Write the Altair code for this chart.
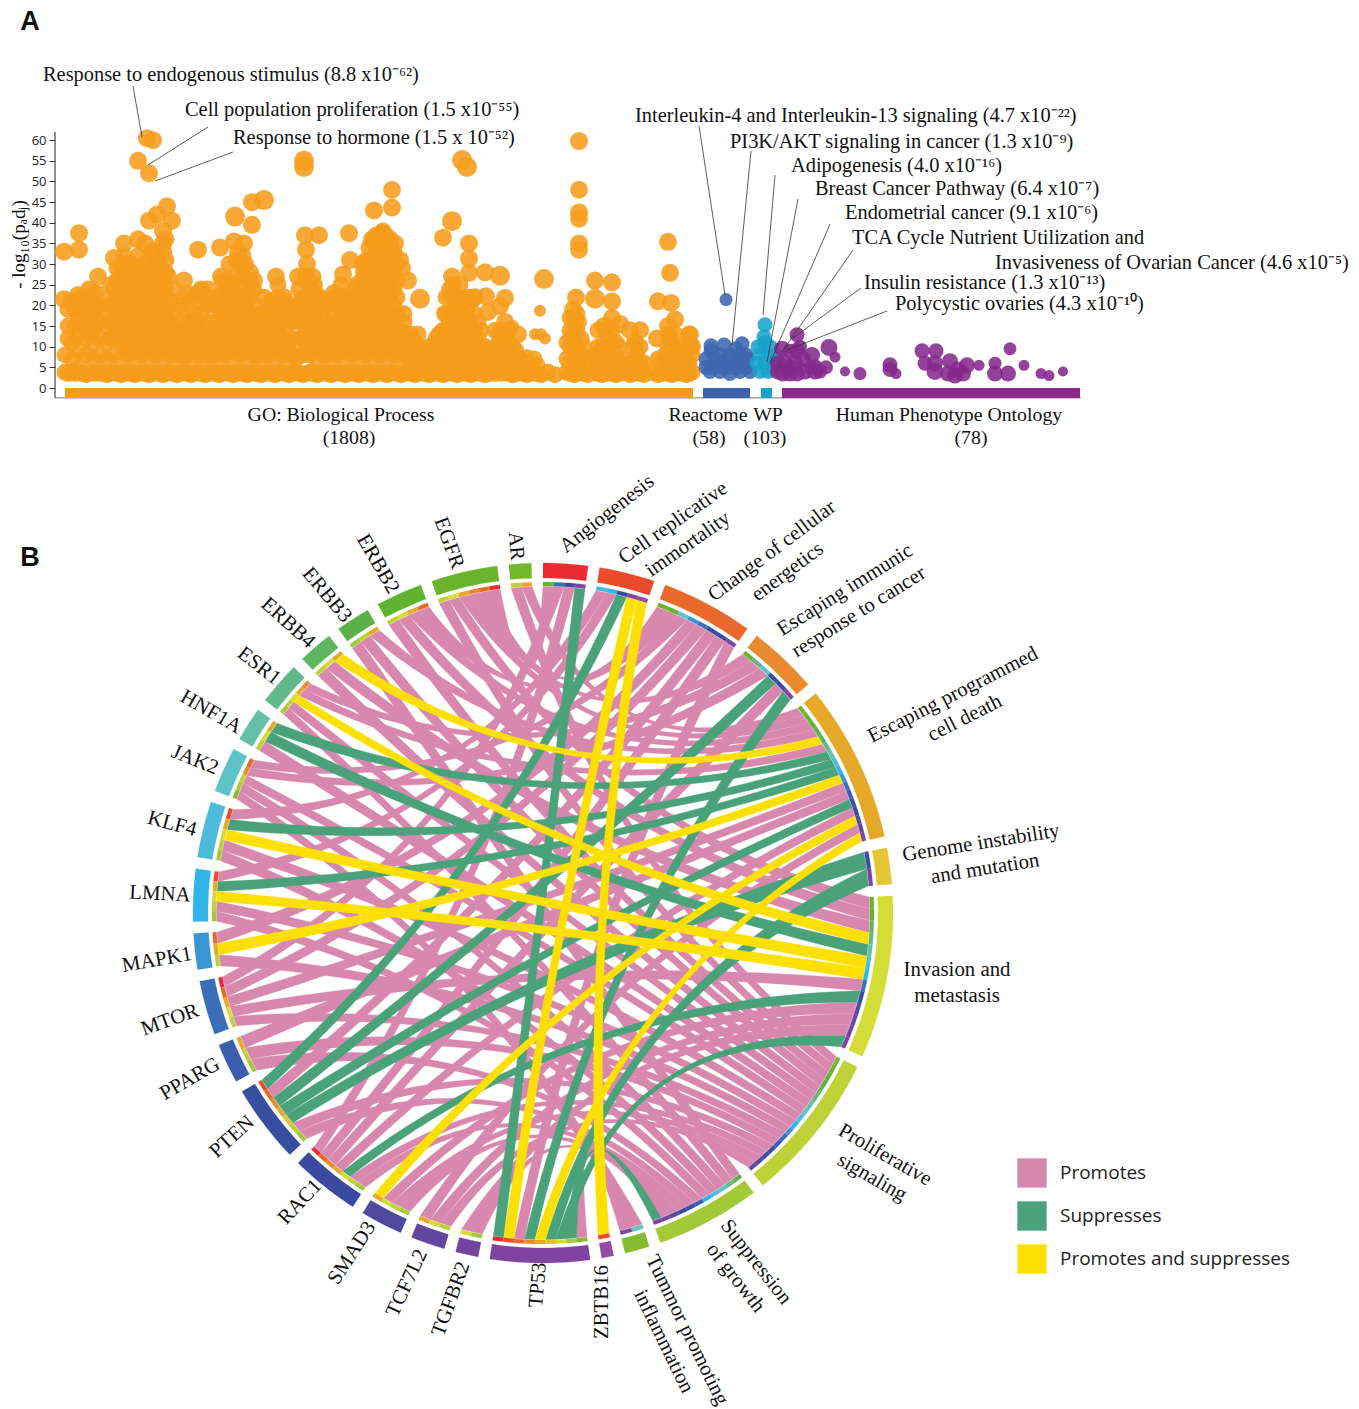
import math
import altair as alt
import pandas as pd

alt.data_transformers.disable_max_rows()

SERIF = "Liberation Serif"
SANS = "Open Sans"

# ---------- Panel A values: term position and -log10(p_adj) ----------
GO_COLS = {
    65: [3.8, 8], 72: [3.8, 7, 11], 79: [5, 9, 13, 17], 86: [3.2, 8, 12, 15], 93: [3.8, 7, 11, 14, 18],
    100: [3.8, 8, 12, 16], 107: [3.2, 7, 11, 15], 114: [3.8, 8, 12, 16, 20, 24], 121: [3.2, 7, 11, 15, 19, 23, 27],
    128: [3.8, 8, 12, 16, 20, 24, 29], 135: [3.2, 7, 11, 15, 19, 23], 142: [3.8, 8, 12, 16, 20, 25], 149: [3.2, 7, 11, 15, 19, 24],
    156: [3.8, 8, 12, 16, 20, 25], 163: [3.2, 7, 11, 15, 19, 23, 26], 170: [3.8, 8, 12, 16, 21], 177: [3.2, 7, 11, 14],
    184: [3.8, 8, 12], 191: [3.2, 7, 11, 15], 198: [3.8, 8, 12, 16], 205: [3.2, 7, 11], 212: [3.8, 8, 12, 14],
    219: [3.2, 7, 11, 15, 19], 226: [3.8, 8, 12, 16, 21], 233: [3.2, 7, 11, 15, 19, 24], 240: [3.8, 8, 12, 16, 20, 25],
    247: [3.2, 7, 11, 15, 19, 23], 254: [3.8, 8, 12], 261: [3.2, 7, 11, 15, 18], 268: [3.8, 8, 12, 16], 275: [3.2, 7, 11, 15],
    282: [3.8, 8, 12, 16], 289: [3.2, 7, 11], 296: [3.8, 7], 303: [3.2, 8, 12, 16, 20], 310: [3.8, 8, 12, 16, 20, 25],
    317: [3.2, 7, 11, 15, 19], 324: [3.8, 8, 12], 331: [3.2, 7, 11, 15], 338: [3.8, 8, 12, 16], 345: [3.2, 7, 11, 15, 18],
    352: [3.8, 8, 12, 16], 359: [3.2, 7, 11, 15, 18], 366: [3.8, 8, 12, 16, 20, 24, 28, 31], 373: [3.2, 7, 11, 15, 19, 23, 27, 31, 35],
    380: [3.8, 8, 12, 16, 20, 24, 28, 32, 36], 387: [3.2, 7, 11, 15, 19, 23, 27, 31, 35], 394: [3.8, 8, 12, 16, 20, 24, 28, 33],
    401: [3.2, 7, 11, 14], 408: [3.8, 8, 12], 415: [3.2, 7, 11], 422: [3.8, 8], 429: [3.2, 7, 10], 436: [3.8, 8, 12],
    443: [3.2, 7, 11, 14], 450: [3.8, 8, 12, 16], 457: [3.2, 7, 11, 15, 19], 464: [3.8, 8, 12, 16, 20], 471: [3.2, 7, 11, 15, 21],
    478: [3.8, 8, 12, 16], 485: [3.2, 7, 10], 492: [3.8, 8], 499: [7, 10, 13], 506: [3.8, 8, 12], 513: [3.2, 7, 10],
    520: [3.8, 7], 527: [3.2, 6], 534: [3.8, 7], 541: [3.2], 548: [3.8], 555: [3.2], 567: [3.8, 7, 11], 574: [3.2, 7, 11, 14],
    581: [3.8, 8, 12], 588: [3.2, 7], 595: [3.8, 8], 602: [3.2, 7, 10], 609: [3.8, 8, 12], 616: [3.2, 7, 11], 623: [3.8, 7],
    630: [3.2, 6], 637: [3.8, 8], 644: [3.2, 6], 651: [3.8], 658: [3.2, 7], 665: [3.8, 8], 672: [3.2, 7, 10], 679: [3.8, 8],
    686: [3.2, 6], 692: [3.8, 8, 10],
}
GO_FILL = {
    68: [3.5, 12, 15, 19], 75: [3.5, 15, 19, 21], 82: [3.5, 15, 19, 22], 89: [3.5, 14, 18, 21, 24], 96: [3.5, 16, 20, 23],
    103: [3.5, 19], 110: [3.5, 12, 16, 20, 22, 25], 117: [3.5, 14, 18, 22, 26, 29], 124: [3.5, 10, 14, 18, 22, 26, 30, 32],
    131: [3.5, 10, 14, 18, 22, 26, 30], 138: [3.5, 10, 14, 18, 22, 26, 29, 32], 145: [3.5, 10, 14, 18, 22, 26, 30],
    152: [3.5, 10, 14, 18, 22, 26, 29], 159: [3.5, 10, 14, 18, 22, 27, 30], 166: [3.5, 10, 14, 18, 22, 28, 31, 36],
    173: [3.5, 10, 14, 18, 24], 180: [3.5, 8, 12, 16, 20], 187: [3.5, 8, 12, 16, 19, 23], 194: [3.5, 10, 14, 18, 22],
    201: [3.5, 10, 14, 18, 24], 208: [3.5, 8, 12, 16, 20, 24], 215: [3.5, 8, 12, 16, 20], 222: [3.5, 10, 14, 18, 23, 26],
    229: [3.5, 10, 14, 18, 22, 26, 30], 236: [3.5, 10, 14, 18, 22, 27, 31], 243: [3.5, 10, 14, 18, 22, 27, 32],
    250: [3.5, 10, 14, 18, 22, 26], 257: [3.5, 8, 12, 16, 20], 264: [3.5, 10, 14, 18, 22], 271: [3.5, 10, 14, 18, 20],
    278: [3.5, 10, 14, 18, 22, 25], 285: [3.5, 10, 14, 18, 21], 292: [3.5, 8, 12, 16, 19], 299: [3.5, 8, 12, 16, 20, 24],
    306: [3.5, 10, 14, 18, 22, 26], 313: [3.5, 10, 14, 18, 22, 27], 320: [3.5, 10, 14, 18, 22], 327: [3.5, 8, 12, 16, 20],
    334: [3.5, 10, 14, 18, 22], 341: [3.5, 10, 14, 18, 22, 25], 348: [3.5, 10, 14, 18, 21], 355: [3.5, 10, 14, 18, 22, 24],
    362: [3.5, 10, 14, 18, 22, 26, 30], 369: [3.5, 10, 14, 18, 22, 26, 30, 34], 376: [3.5, 10, 14, 18, 22, 26, 30, 33, 37],
    383: [3.5, 10, 14, 18, 22, 26, 30, 34, 38], 390: [3.5, 10, 14, 18, 22, 26, 30, 34], 397: [3.5, 10, 14, 18, 22, 26, 30],
    404: [3.5, 8, 12, 16, 18], 411: [3.5, 6, 10, 13], 418: [3.5, 6, 10, 13], 425: [3.5, 6, 9], 432: [3.5, 6, 10],
    439: [3.5, 6, 10, 13], 446: [3.5, 6, 10, 14, 18, 22], 453: [3.5, 6, 10, 14, 18, 22, 25], 460: [3.5, 6, 10, 14, 18, 22, 25],
    467: [3.5, 6, 10, 14, 18, 22], 474: [3.5, 6, 10, 14, 18, 22], 481: [3.5, 6, 10, 14], 488: [3.5, 6, 9],
    495: [3.5, 6, 10, 14], 502: [3.5, 6, 10, 14], 509: [3.5, 6, 10, 14], 516: [3.5, 6, 9], 523: [3.5, 6], 530: [3.5, 5.5],
    537: [3.5, 5.5], 570: [3.5, 6, 10, 14, 17], 577: [3.5, 6, 10, 14, 18], 584: [3.5, 6, 10], 598: [3.5, 6, 10, 14],
    605: [3.5, 6, 10, 14], 612: [3.5, 6, 10, 14], 619: [3.5, 6, 10], 633: [3.5, 6, 10], 640: [3.5, 6, 10], 661: [3.5, 6],
    668: [3.5, 6, 10, 13], 675: [3.5, 6, 10, 13], 682: [3.5, 6, 10], 689: [3.5, 6, 10, 13],
}
GO_TOP_X = [64, 79, 79, 64, 72, 78, 84, 98, 93, 90, 98, 124, 114, 122, 128, 126, 138, 145, 135, 140, 150, 152, 153, 148,
            138, 147, 153, 149, 149, 157, 167, 172, 163, 163, 163, 153, 168, 160, 165, 198, 184, 198, 209, 184, 201,
            220, 221, 228, 252, 252, 234, 238, 244, 240, 245, 250, 254, 253, 220, 235, 276, 284, 272, 290,
            305, 306, 307, 298, 306, 314, 315, 319, 338, 330, 302, 349, 343, 350, 357, 334, 345, 356,
            382, 385, 390, 395, 367, 402, 364, 372, 378, 400, 408, 392, 392, 374, 443,
            469, 469, 469, 452, 450, 485, 486, 505, 500, 488, 455, 465, 475, 445, 505, 518,
            579, 579, 579, 579, 579, 579, 576, 573, 575, 578, 572, 595, 612, 612, 612, 620, 604, 630, 640, 635,
            668, 670, 658, 671, 675, 668, 657, 670, 690, 692]
GO_TOP_Y = [33, 37.5, 33.5, 21.5, 21, 22.5, 21, 27, 23, 21, 20, 35, 31.5, 28.5, 30, 26, 36, 35, 29, 25, 25, 33, 30, 27,
            55, 60.5, 60, 52, 40.5, 42, 44, 40.5, 38, 35, 33, 33, 27, 27, 24, 33.5, 26, 23, 22, 21.5, 21,
            34, 27, 25, 45, 39.5, 35.5, 33, 35, 30, 30, 28, 26, 24, 22, 21, 27, 22, 21, 18,
            37, 33.5, 30, 27, 27, 25, 23, 37, 21.5, 21, 21.5, 37.5, 27.5, 31, 25, 23, 22, 21,
            37.5, 37, 36, 35, 30, 29, 28, 36, 33, 31, 26, 48, 43.7, 43, 36.4,
            35, 31.3, 27.9, 27, 23.8, 28, 22.2, 21.8, 19.8, 18.4, 21, 19, 22, 18, 16, 13,
            59.8, 48, 42.5, 41, 35, 33.5, 21.9, 19, 17, 16, 12, 26, 25.6, 21, 17, 15.5, 15, 14, 14, 11,
            35.4, 27.9, 21, 20.6, 16.6, 15, 12, 12, 13, 10]
GO_BIG_X = [304, 304, 235, 264, 452, 420, 462, 467, 500, 544, 595]
GO_BIG_Y = [55, 53.5, 41.5, 45.5, 40.4, 21.6, 55.2, 53.5, 27.2, 26.4, 21.6]
GO_SMALL_X = [540, 535, 541, 545, 527, 513]
GO_SMALL_Y = [18.7, 13, 13, 12, 8, 15]

RE_X = [726, 711, 724, 742, 711, 736, 730, 720, 740, 748, 706, 714, 722, 730, 738, 746, 750, 706, 716, 726, 736, 746, 710, 720, 730, 740]
RE_Y = [21.4, 10.2, 10.4, 10.7, 9, 9.5, 8, 8, 8, 7, 5, 5, 5, 5, 5, 5, 4, 7, 7, 7, 6, 8, 4, 4, 3.5, 4]
WP_X = [765, 764, 765, 758, 770, 760, 768, 757, 765, 772, 775, 760, 768, 772, 776]
WP_Y = [15.3, 12.4, 11, 10, 10, 8, 8, 6, 6, 6, 6, 4, 4, 4.5, 8]
HP_X = [797, 782, 790, 797, 800, 778, 785, 790, 783, 797, 803, 812, 815, 811, 820, 826, 829, 835, 845, 860, 890, 890, 896,
        922, 936, 925, 935, 935, 950, 948, 955, 963, 967, 958, 979, 995, 995, 1008, 1010, 1024, 1041, 1049, 1063,
        790, 805, 815, 778, 795]
HP_Y = [12.9, 9.5, 9, 9, 10, 6, 6, 5, 3.5, 3.5, 7, 8, 5, 5, 4, 5, 9.8, 7.5, 4, 3.5, 5.6, 4.5, 3.5,
        9, 9, 6, 4, 6, 6.5, 3.5, 3, 3.5, 5.5, 4.5, 5.5, 6, 3.5, 3.5, 9.5, 5.5, 3.5, 3, 4,
        3.5, 4, 4, 4, 6]
HP_R = [7.5, 8, 7, 8, 7, 8, 8, 8, 8, 8, 8, 8, 8, 7, 7, 7, 8.5, 5.5, 5, 6.5, 7.5, 7.5, 5.5,
        7.5, 7.5, 7.5, 8.5, 8, 8, 8, 8, 8, 8, 8, 5.5, 6.5, 8, 8, 6.5, 5.5, 5.5, 5.5, 5,
        8, 8, 8, 8, 8]

SOURCE_COL = {"GO": "#f69c1b", "RE": "#3d66ae", "WP": "#18a3cb", "HP": "#84298c"}
BAR_START = [65, 703, 761, 782]
BAR_END = [693, 750, 772, 1080]
BAR_COL = ["#f69c1b", "#3d62ab", "#18a3cb", "#8a2b8c"]

# ---------- Panel A texts ----------
A_LEFT = [
    ("Response to endogenous stimulus (8.8 x10⁻⁶²)", 43, 75),
    ("Cell population proliferation (1.5 x10⁻⁵⁵)", 185, 110),
    ("Response to hormone (1.5 x 10⁻⁵²)", 233, 138),
    ("Interleukin-4 and Interleukin-13 signaling (4.7 x10⁻²²)", 635, 116),
    ("PI3K/AKT signaling in cancer (1.3 x10⁻⁹)", 730, 142),
    ("Adipogenesis (4.0 x10⁻¹⁶)", 791, 166),
    ("Breast Cancer Pathway (6.4 x10⁻⁷)", 815, 189),
    ("Endometrial cancer (9.1 x10⁻⁶)", 845, 213),
    ("TCA Cycle Nutrient Utilization and", 852, 238),
    ("Invasiveness of Ovarian Cancer (4.6 x10⁻⁵)", 995, 263),
    ("Insulin resistance (1.3 x10⁻¹³)", 864, 283),
    ("Polycystic ovaries (4.3 x10⁻¹⁰)", 895, 304),
]
A_CENTER = [
    ("GO: Biological Process", 341, 415), ("(1808)", 349, 438),
    ("Reactome", 708, 415), ("(58)", 709, 438),
    ("WP", 768, 415), ("(103)", 765, 438),
    ("Human Phenotype Ontology", 949, 415), ("(78)", 971, 438),
]
LEADERS = [
    (133, 86, 142, 137), (208, 127, 148, 165), (233, 152, 155, 181), (699, 126, 725, 295),
    (751, 151, 732, 345), (775, 175, 763, 315), (798, 199, 767, 362), (830, 224, 770, 363),
    (853, 250, 782, 352), (861, 288, 793, 338), (887, 311, 787, 350),
]

# ---------- Panel B values ----------
HALLMARKS = ["Angiogenesis", "Cell replicative\nimmortality", "Change of cellular\nenergetics",
             "Escaping immunic\nresponse to cancer", "Escaping programmed\ncell death",
             "Genome instability\nand mutation", "Invasion and\nmetastasis", "Proliferative\nsignaling",
             "Suppression\nof growth", "Tummor promoting\ninflammation"]
H_SIZE = [7.4, 9.2, 15.3, 11.6, 26.2, 6, 27, 25, 17.4, 4.1]
H_COL = ["#ed2a32", "#ea4b2b", "#e8692a", "#e88a2d", "#e5a829", "#e3c632", "#d6dc36", "#bdd237", "#a3c936", "#86bb2f"]
H_LABEL = [(607, 514, -38), (673, 523, -35), (772, 551, -37), (845, 590, -32), (953, 695, -27),
           (981, 843, -9), (957, 970, 0), (885, 1155, 30), (756, 1262, 52), (687, 1330, 64)]

GENES = ["AR", "EGFR", "ERBB2", "ERBB3", "ERBB4", "ESR1", "HNF1A", "JAK2", "KLF4", "LMNA", "MAPK1", "MTOR",
         "PPARG", "PTEN", "RAC1", "SMAD3", "TCF7L2", "TGFBR2", "TP53", "ZBTB16"]
G_SIZE = [3.7, 11, 7.7, 5.7, 5.8, 7.2, 5.7, 7.5, 9.3, 8.7, 6, 9, 6.6, 13, 11.5, 7, 5.7, 3.8, 16.5, 2]
G_COL = ["#74b72e", "#6ab42d", "#5fb32e", "#5cb24a", "#5fb560", "#62b88a", "#66c0a8", "#5fc2c6", "#4fbbdc", "#2fb5e8",
         "#3a95d4", "#3a6fb8", "#3b5fad", "#3a4ea1", "#3c49a0", "#5148a0", "#6247a0", "#7345a0", "#8044a0", "#9449a3"]
G_LABEL = [(516, 546, 85), (449, 543, 70), (378, 564, 60), (327, 595, 50), (288, 623, 42), (259, 666, 38),
           (211, 712, 30), (195, 760, 22), (172, 824, 15), (160, 894, 3), (157, 960, -10), (170, 1020, -20),
           (190, 1079, -30), (232, 1137, -42), (300, 1202, -47), (352, 1253, -57), (407, 1283, -65),
           (451, 1299, -70), (538, 1285, -85), (602, 1302, -90)]

# links: gene -> (hallmark index, relation); P promotes, S suppresses, B both
LINKS = {
    "AR": [(4, "P"), (7, "P")],
    "EGFR": [(0, "P"), (2, "P"), (3, "P"), (4, "P"), (6, "P"), (7, "P")],
    "ERBB2": [(2, "P"), (4, "P"), (6, "P"), (7, "P")],
    "ERBB3": [(4, "P"), (7, "P"), (8, "P")],
    "ERBB4": [(4, "B"), (6, "P"), (7, "P")],
    "ESR1": [(3, "P"), (4, "P"), (6, "B"), (7, "P"), (8, "P")],
    "HNF1A": [(4, "S"), (6, "S"), (7, "P")],
    "JAK2": [(2, "P"), (3, "P"), (7, "P"), (8, "P"), (9, "P")],
    "KLF4": [(1, "P"), (4, "S"), (6, "B"), (7, "P"), (8, "P")],
    "LMNA": [(1, "P"), (4, "S"), (6, "B"), (7, "P"), (8, "P")],
    "MAPK1": [(2, "P"), (4, "B"), (7, "P")],
    "MTOR": [(0, "P"), (2, "P"), (4, "P"), (6, "P"), (7, "P")],
    "PPARG": [(4, "P"), (7, "P"), (8, "P")],
    "PTEN": [(1, "S"), (2, "P"), (3, "S"), (4, "S"), (5, "S"), (7, "P"), (8, "P")],
    "RAC1": [(0, "P"), (2, "P"), (3, "P"), (4, "P"), (6, "S"), (7, "P"), (8, "P")],
    "SMAD3": [(4, "B"), (6, "P"), (7, "P"), (8, "P")],
    "TCF7L2": [(4, "P"), (6, "P"), (7, "P")],
    "TGFBR2": [(6, "P"), (8, "P")],
    "TP53": [(0, "S"), (1, "B"), (2, "P"), (3, "S"), (4, "B"), (5, "S"), (6, "S"), (8, "S"), (9, "P")],
    "ZBTB16": [(1, "B")],
}
RELATION = {"P": "Promotes", "S": "Suppresses", "B": "Promotes and suppresses"}
REL_ORDER = ["Promotes", "Suppresses", "Promotes and suppresses"]
REL_COL = ["#d888ae", "#4aa27a", "#fde003"]

# ---------- Page geometry ----------
LEFT, RIGHT, TOP, BOTTOM = 55, 1351, 8, 1409
CX, CY = 543, 913
R_OUT, R_BAND, R_TRACK_OUT, R_TRACK_IN = 350, 335, 331, 327
PX_PER_UNIT = 4.13
AXIS_ZERO = 388

xs = alt.Scale(domain=[LEFT, RIGHT], nice=False, zero=False)
ypage = alt.Scale(domain=[BOTTOM, TOP], nice=False, zero=False)
yval = alt.Scale(domain=[(AXIS_ZERO - BOTTOM) / PX_PER_UNIT, (AXIS_ZERO - TOP) / PX_PER_UNIT], nice=False, zero=False)


def pt(r, deg):
    a = math.radians(deg)
    return CX + r * math.sin(a), CY - r * math.cos(a)


# sector layout, clockwise from the top
gap = (360 - sum(H_SIZE) - sum(G_SIZE)) / 30
span = {}
cur = 0.0
for name, size in zip(HALLMARKS, H_SIZE):
    span[name] = (cur, cur + size)
    cur += size + gap
for name, size in zip(GENES[::-1], G_SIZE[::-1]):
    span[name] = (cur, cur + size)
    cur += size + gap

all_links = []
for gi, g in enumerate(GENES):
    for hi, rel in LINKS[g]:
        all_links.append({"g": gi, "h": hi, "rel": RELATION[rel]})

for hi, h in enumerate(HALLMARKS):
    mine = sorted([l for l in all_links if l["h"] == hi], key=lambda l: l["g"])
    w = (span[h][1] - span[h][0]) / len(mine)
    for k, l in enumerate(mine):
        l["b"] = (span[h][0] + k * w, span[h][0] + (k + 1) * w)
for gi, g in enumerate(GENES):
    mine = sorted([l for l in all_links if l["g"] == gi], key=lambda l: -l["h"])
    w = (span[g][1] - span[g][0]) / len(mine)
    for k, l in enumerate(mine):
        l["a"] = (span[g][0] + k * w, span[g][0] + (k + 1) * w)


def arc(r, d0, d1):
    n = max(2, int(abs(d1 - d0)) + 2)
    return [pt(r, d0 + (d1 - d0) * i / (n - 1)) for i in range(n)]


def bez(p, q, n=28):
    k = 0.25
    c = (CX + k * (p[0] + q[0] - 2 * CX), CY + k * (p[1] + q[1] - 2 * CY))
    out = []
    for i in range(n + 1):
        t = i / n
        out.append(((1 - t) ** 2 * p[0] + 2 * t * (1 - t) * c[0] + t ** 2 * q[0],
                    (1 - t) ** 2 * p[1] + 2 * t * (1 - t) * c[1] + t ** 2 * q[1]))
    return out


chord_rows = []
cid = 0
for rel in REL_ORDER:
    for l in all_links:
        if l["rel"] != rel:
            continue
        r = R_TRACK_IN - 0.5
        a0, a1 = l["a"]
        b0, b1 = l["b"]
        path = arc(r, a0, a1) + bez(pt(r, a1), pt(r, b0)) + arc(r, b0, b1) + bez(pt(r, b1), pt(r, a0))
        for i, (x, y) in enumerate(path):
            chord_rows.append({"px": x, "py": y, "id": cid, "seq": i, "rel": rel})
        cid += 1
chords = pd.DataFrame(chord_rows)

band_rows = []
bid = 0


def add_band(d0, d1, r0, r1, col):
    global bid
    for i, (x, y) in enumerate(arc(r1, d0, d1) + arc(r0, d1, d0)):
        band_rows.append({"px": x, "py": y, "id": bid, "seq": i, "col": col})
    bid += 1


for name, col in list(zip(HALLMARKS, H_COL)) + list(zip(GENES, G_COL)):
    add_band(span[name][0], span[name][1], R_BAND, R_OUT, col)
for l in all_links:
    add_band(l["a"][0], l["a"][1], R_TRACK_IN, R_TRACK_OUT, H_COL[l["h"]])
    add_band(l["b"][0], l["b"][1], R_TRACK_IN, R_TRACK_OUT, G_COL[l["g"]])
bands = pd.DataFrame(band_rows)

# ---------- Panel A tables ----------
pts = []
for cols in (GO_COLS, GO_FILL):
    for x, ys in cols.items():
        for y in ys:
            pts.append((x, y, 8.5, SOURCE_COL["GO"]))
pts += [(x, y, 9, SOURCE_COL["GO"]) for x, y in zip(GO_TOP_X, GO_TOP_Y)]
pts += [(x, y, 10, SOURCE_COL["GO"]) for x, y in zip(GO_BIG_X, GO_BIG_Y)]
pts += [(x, y, 6, SOURCE_COL["GO"]) for x, y in zip(GO_SMALL_X, GO_SMALL_Y)]
pts += [(x, y, 6.5 if y > 20 else 7.5, SOURCE_COL["RE"]) for x, y in zip(RE_X, RE_Y)]
pts += [(x, y, 7.5, SOURCE_COL["WP"]) for x, y in zip(WP_X, WP_Y)]
pts += [(x, y, r, SOURCE_COL["HP"]) for x, y, r in zip(HP_X, HP_Y, HP_R)]
points = pd.DataFrame(pts, columns=["x", "v", "r", "col"])
points["area"] = 4 * points["r"] ** 2

bars = pd.DataFrame({"x": BAR_START, "x2": BAR_END, "v": [0] * 4, "v2": [-2.4] * 4, "col": BAR_COL})

base_x = alt.X("x:Q", scale=xs, axis=None)
y_page = alt.Y("y:Q", scale=ypage, axis=None)

axis_layer = alt.Chart(points).mark_circle(opacity=0.88, stroke=None).encode(
    x=base_x,
    y=alt.Y("v:Q", scale=yval, axis=alt.Axis(
        values=list(range(0, 65, 5)), domain=False, grid=False, tickColor="#333333", tickSize=6,
        labelFont=SANS, labelFontSize=13, labelColor="#222222", labelPadding=3,
        title="- log₁₀(pₐdⱼ)", titleFont=SERIF, titleFontSize=19, titleFontWeight="normal",
        titleColor="#111111", titleX=-37, titleY=236, titleAngle=270, titleBaseline="middle")),
    size=alt.Size("area:Q", scale=None),
    color=alt.Color("col:N", scale=None),
)
bar_layer = alt.Chart(bars).mark_rect().encode(
    x=base_x, x2="x2:Q",
    y=alt.Y("v:Q", scale=yval, axis=None), y2="v2:Q",
    color=alt.Color("col:N", scale=None),
)
frame = pd.DataFrame({"x": [LEFT], "x2": [1081], "v0": [62], "v1": [-2.4], "v2": [-2.4]})
axis_line = alt.Chart(frame).mark_rule(color="#444444", strokeWidth=1.2).encode(
    x=base_x, y=alt.Y("v0:Q", scale=yval, axis=None), y2="v1:Q")
base_line = alt.Chart(frame).mark_rule(color="#777777", strokeWidth=1).encode(
    x=base_x, x2="x2:Q", y=alt.Y("v2:Q", scale=yval, axis=None))

lead = pd.DataFrame(LEADERS, columns=["x", "y", "x2", "y2"])
leader_layer = alt.Chart(lead).mark_rule(color="#333333", strokeWidth=0.8).encode(
    x=base_x, x2="x2:Q", y=y_page, y2="y2:Q")

chord_layer = alt.Chart(chords).mark_line(strokeWidth=0.3, interpolate="linear").encode(
    x=alt.X("px:Q", scale=xs, axis=None),
    y=alt.Y("py:Q", scale=ypage, axis=None),
    order=alt.Order("seq:Q"),
    detail="id:N",
    stroke=alt.Stroke("rel:N", scale=alt.Scale(domain=REL_ORDER, range=REL_COL), legend=None),
    fill=alt.Fill("rel:N", scale=alt.Scale(domain=REL_ORDER, range=REL_COL), legend=alt.Legend(
        orient="none", legendX=962, legendY=1150, title=None, symbolType="square", symbolSize=860,
        symbolStrokeWidth=0, labelFont=SANS, labelFontSize=19, labelColor="#222222", labelOffset=13,
        rowPadding=13, labelLimit=300)),
)
band_layer = alt.Chart(bands).mark_line(strokeWidth=0.2).encode(
    x=alt.X("px:Q", scale=xs, axis=None),
    y=alt.Y("py:Q", scale=ypage, axis=None),
    order=alt.Order("seq:Q"),
    detail="id:N",
    stroke=alt.Stroke("col:N", scale=None),
    fill=alt.Fill("col:N", scale=None),
)

left_text = pd.DataFrame(A_LEFT, columns=["t", "x", "y"])
center_text = pd.DataFrame(A_CENTER, columns=["t", "x", "y"])
tl = alt.Chart(left_text).mark_text(font=SERIF, fontSize=20.4, align="left", baseline="middle", color="#111111").encode(
    x=base_x, y=y_page, text="t:N")
tc = alt.Chart(center_text).mark_text(font=SERIF, fontSize=19.8, align="center", baseline="middle", color="#111111").encode(
    x=base_x, y=y_page, text="t:N")

ring_rows = [(n, x, y, a % 360) for n, (x, y, a) in zip(HALLMARKS + GENES, H_LABEL + G_LABEL)]
ring_text = pd.DataFrame(ring_rows, columns=["t", "x", "y", "a"])
tr = alt.Chart(ring_text).mark_text(font=SERIF, fontSize=20.8, align="center", baseline="middle", color="#111111",
                                    lineBreak="\n", lineHeight=26).encode(
    x=base_x, y=y_page, text="t:N", angle=alt.Angle("a:Q", scale=None))

letters = pd.DataFrame({"t": ["A", "B"], "x": [30, 30], "y": [22, 558]})
tp = alt.Chart(letters).mark_text(font="Liberation Sans", fontSize=27, fontWeight="bold", align="center",
                                  baseline="middle", color="#111111").encode(x=base_x, y=y_page, text="t:N")

chart = alt.layer(
    axis_line, base_line, bar_layer, axis_layer, leader_layer, chord_layer, band_layer, tl, tc, tr, tp
).resolve_scale(y="independent", fill="independent", stroke="independent").properties(
    width=RIGHT - LEFT, height=BOTTOM - TOP,
    padding={"left": LEFT - 8, "top": 0, "right": 0, "bottom": 0},
    autosize=alt.AutoSizeParams(type="none"),
).configure_view(stroke=None)

chart.save("out.html", embed_options={"renderer": "svg", "actions": False})
